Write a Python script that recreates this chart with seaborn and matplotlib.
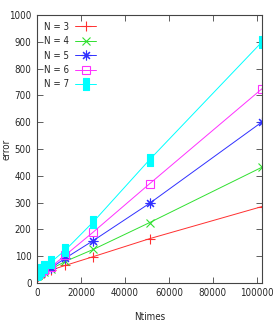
import matplotlib
matplotlib.use('Agg')
import matplotlib.pyplot as plt
import seaborn as sns
import numpy as np

# data
ntimes = [100, 200, 400, 800, 1600, 3200, 6400, 12800, 25600, 51200, 102400]
err_n3 = [25, 26, 27, 30, 33, 38, 48, 65, 98, 165, 285]
err_n4 = [27, 28, 30, 33, 36, 41, 52, 80, 125, 225, 432]
err_n5 = [28, 30, 32, 35, 38, 44, 56, 92, 158, 297, 601]
err_n6 = [30, 32, 34, 37, 41, 47, 60, 103, 190, 370, 725]
err_n7 = [32, 35, 38, 42, 48, 58, 78, 122, 228, 460, 900]
labels = ['N = 3', 'N = 4', 'N = 5', 'N = 6', 'N = 7']

sns.set_style('ticks')
plt.rcParams['font.family'] = ['DejaVu Sans']
plt.rcParams['font.stretch'] = 'condensed'

rect = [(-0.6, -1), (0.6, -1), (0.6, 1), (-0.6, 1), (-0.6, -1)]
series = [
    (err_n3, '#ff3030', '+', dict(markersize=7)),
    (err_n4, '#30e030', 'x', dict(markersize=6)),
    (err_n5, '#3030ff', (8, 2, 0), dict(markersize=7)),
    (err_n6, '#ff30ff', 's', dict(markersize=6, markerfacecolor='none')),
    (err_n7, '#00ffff', rect, dict(markersize=8, markerfacecolor='#00ffff')),
]

fig = plt.figure(figsize=(2.73, 3.27), dpi=100)
ax = fig.add_axes([0.136, 0.135, 0.824, 0.819])

for (vals, col, mk, kw), lab in zip(series, labels):
    sns.lineplot(x=ntimes, y=vals, ax=ax, color=col, marker=mk, label=lab,
                 linewidth=0.7, markeredgewidth=0.8, markeredgecolor=col, **kw)

ax.set_xlim(0, 102400)
ax.set_ylim(0, 1000)
ax.set_xticks(np.arange(0, 100001, 20000))
ax.set_yticks(np.arange(0, 1001, 100))
ax.tick_params(direction='in', length=4, width=0.6, labelsize=7,
               top=True, right=True, color='#444444', pad=4)
for s in ax.spines.values():
    s.set_linewidth(0.8)
    s.set_color('#444444')

ax.set_xlabel('Ntimes', fontsize=7, labelpad=10)
ax.set_ylabel('error', fontsize=7)
ax.yaxis.set_label_coords(-0.115, 0.5)

ax.legend(loc='upper left', frameon=False, fontsize=7, markerfirst=False,
          handlelength=2.2, labelspacing=0.45, borderaxespad=0.3,
          handletextpad=0.6)

fig.savefig('out.png', dpi=100)
